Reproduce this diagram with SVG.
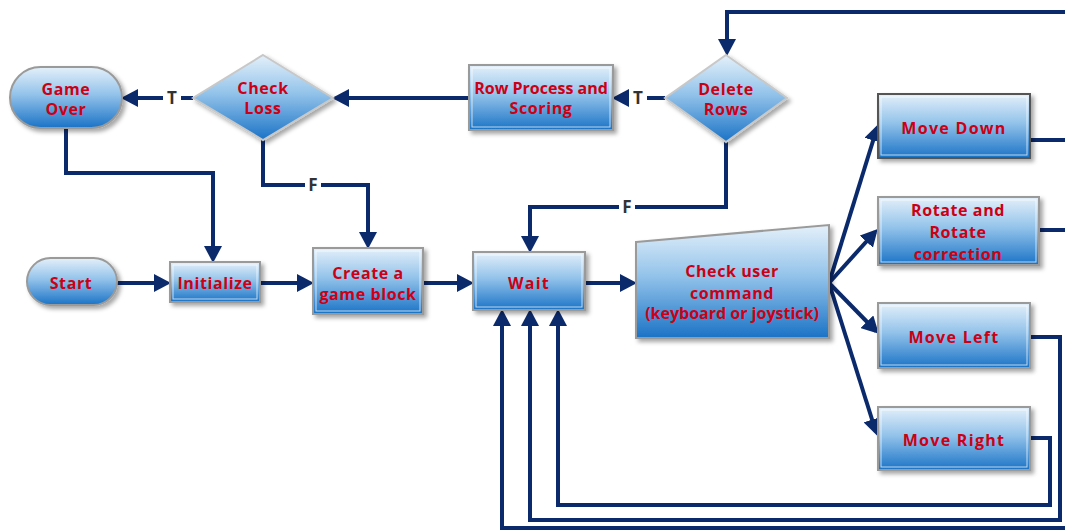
<svg xmlns="http://www.w3.org/2000/svg" width="1065" height="531" viewBox="0 0 1065 531">
<defs>
<linearGradient id="g" x1="0" y1="0" x2="0" y2="1">
<stop offset="0" stop-color="#e4f0fa"/>
<stop offset="0.45" stop-color="#93c3ea"/>
<stop offset="1" stop-color="#1a73c6"/>
</linearGradient>
<filter id="sh" x="-10%" y="-10%" width="130%" height="140%">
<feDropShadow dx="3" dy="3" stdDeviation="2" flood-color="#000" flood-opacity="0.35"/>
</filter>
<marker id="ah" markerUnits="userSpaceOnUse" markerWidth="17" markerHeight="18" refX="13" refY="9" orient="auto">
<path d="M0,0 L17,9 L0,18 z" fill="#0b2a6c"/>
</marker>
</defs>
<style>
.box{fill:url(#g);stroke:#9a9a9a;stroke-width:2;filter:url(#sh)}
.in{fill:none;stroke:#ffffff;stroke-opacity:0.7;stroke-width:1}
.t{font-family:"Open Sans","Noto Sans",sans-serif;font-weight:bold;font-size:16px;fill:#cc0014;text-anchor:middle;letter-spacing:0.6px}
.mv{letter-spacing:1.3px}
.c{fill:none;stroke:#0b2a6c;stroke-width:4}
.a{marker-end:url(#ah)}
.lb{font-family:"Open Sans","Noto Sans",sans-serif;font-weight:bold;font-size:17px;fill:#333333;text-anchor:middle}
</style>
<rect width="1065" height="531" fill="#ffffff"/>

<g id="connectors">
<path class="c a" d="M117,283 H167"/>
<path class="c a" d="M260,283 H310"/>
<path class="c a" d="M423,283 H470"/>
<path class="c a" d="M585,283 H633"/>
<path class="c a" d="M66,128 V173 H213 V259"/>
<path class="c a" d="M263,140 V185 H368 V245"/>
<path class="c a" d="M726,142 V207 H530 V249"/>
<path class="c a" d="M1065,12 H727 V52"/>
<path class="c a" d="M193,98 H125"/>
<path class="c a" d="M469,98 H336"/>
<path class="c a" d="M665,98 H616"/>
<path class="c a" d="M829,283 L877,128"/>
<path class="c a" d="M829,283 L875,232"/>
<path class="c a" d="M829,283 L876,331"/>
<path class="c a" d="M829,283 L876,432"/>
<path class="c" d="M1030,140 H1065"/>
<path class="c" d="M1039,230 H1065"/>
<path class="c a" d="M1030,337 H1060 V520 H530 V313"/>
<path class="c a" d="M1030,438 H1050 V505 H558 V313"/>
<path class="c a" d="M1065,528 H502 V313"/>
<rect x="163" y="88" width="18" height="20" fill="#ffffff"/>
<text class="lb" x="172" y="104">T</text>
<rect x="629" y="88" width="18" height="20" fill="#ffffff"/>
<text class="lb" x="638" y="104">T</text>
<rect x="305" y="175" width="16" height="20" fill="#ffffff"/>
<text class="lb" x="313" y="191">F</text>
<rect x="619" y="197" width="16" height="20" fill="#ffffff"/>
<text class="lb" x="627" y="213">F</text>
</g>

<g id="game-over">
<rect class="box" x="10" y="67" width="112" height="61" rx="30.5"/>
<text class="t" x="66" y="95">Game</text>
<text class="t" x="66" y="115">Over</text>
</g>
<g id="check-loss">
<polygon class="box" points="263,55 333,98 263,140 193,98" style="stroke:#c8c8c8"/>
<text class="t" x="263" y="94">Check</text>
<text class="t" x="263" y="114">Loss</text>
</g>
<g id="row-process">
<rect class="box" x="469" y="65" width="144" height="65"/>
<rect class="in" x="472" y="68" width="138" height="59"/>
<text class="t" x="541" y="94" style="letter-spacing:0">Row Process and</text>
<text class="t" x="541" y="114">Scoring</text>
</g>
<g id="delete-rows">
<polygon class="box" points="726,55 787,98 726,142 665,98" style="stroke:#c8c8c8"/>
<text class="t" x="726" y="95">Delete</text>
<text class="t" x="726" y="115">Rows</text>
</g>
<g id="start">
<rect class="box" x="27" y="258" width="90" height="47" rx="23.5"/>
<text class="t" x="71" y="289">Start</text>
</g>
<g id="initialize">
<rect class="box" x="170" y="262" width="90" height="40"/>
<rect class="in" x="173" y="265" width="84" height="34"/>
<text class="t" x="215" y="289">Initialize</text>
</g>
<g id="create-block">
<rect class="box" x="313" y="248" width="110" height="66"/>
<rect class="in" x="316" y="251" width="104" height="60"/>
<text class="t" x="368" y="279">Create a</text>
<text class="t" x="368" y="300">game block</text>
</g>
<g id="wait">
<rect class="box" x="473" y="252" width="112" height="58"/>
<rect class="in" x="476" y="255" width="106" height="52"/>
<text class="t mv" x="529" y="289">Wait</text>
</g>
<g id="check-user-command">
<polygon class="box" points="636,242 829,225 829,338 636,338"/>
<text class="t" x="732" y="277">Check user</text>
<text class="t" x="732" y="299">command</text>
<text class="t" x="732" y="319" style="letter-spacing:0">(keyboard or joystick)</text>
</g>
<g id="move-down">
<rect class="box" x="878" y="94" width="152" height="64" style="stroke:#555"/>
<rect class="in" x="881" y="97" width="146" height="58"/>
<text class="t mv" x="954" y="134">Move Down</text>
</g>
<g id="rotate">
<rect class="box" x="878" y="197" width="161" height="68"/>
<rect class="in" x="881" y="200" width="155" height="62"/>
<text class="t" x="958" y="216">Rotate and</text>
<text class="t" x="958" y="238">Rotate</text>
<text class="t" x="958" y="260">correction</text>
</g>
<g id="move-left">
<rect class="box" x="878" y="303" width="152" height="65"/>
<rect class="in" x="881" y="306" width="146" height="59"/>
<text class="t mv" x="954" y="343">Move Left</text>
</g>
<g id="move-right">
<rect class="box" x="878" y="407" width="152" height="63"/>
<rect class="in" x="881" y="410" width="146" height="57"/>
<text class="t mv" x="954" y="446">Move Right</text>
</g>
</svg>
